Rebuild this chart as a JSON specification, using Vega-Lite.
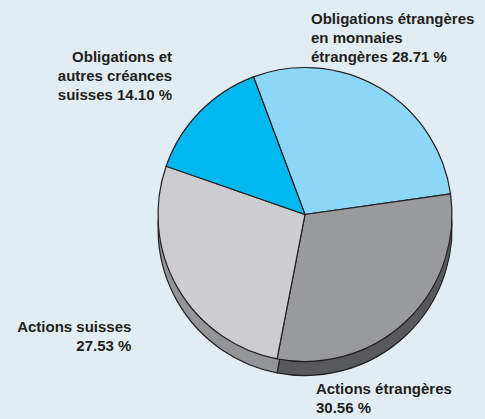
{
  "$schema": "https://vega.github.io/schema/vega-lite/v6.json",
  "width": 360,
  "height": 409,
  "autosize": "none",
  "padding": {"left": 125, "top": 10, "right": 0, "bottom": 0},
  "background": "#e2edf3",
  "config": {"view": {"stroke": null}},
  "data": {
    "values": [
      {"label": "Obligations étrangères\nen monnaies\nétrangères 28.71 %", "category": "Obligations étrangères en monnaies étrangères", "value": 28.71, "order": 1},
      {"label": "Actions étrangères\n30.56 %", "category": "Actions étrangères", "value": 30.56, "order": 2},
      {"label": "Actions suisses\n27.53 %", "category": "Actions suisses", "value": 27.53, "order": 3},
      {"label": "Obligations et\nautres créances\nsuisses 14.10 %", "category": "Obligations et autres créances suisses", "value": 14.10, "order": 4}
    ]
  },
  "encoding": {
    "theta": {"field": "value", "type": "quantitative", "stack": true, "scale": {"domain": [0, 100.9], "range": [-0.358, 5.925]}},
    "order": {"field": "order", "type": "quantitative"}
  },
  "layer": [
    {
      "mark": {"type": "arc", "radius": 147, "yOffset": 14, "stroke": "#231f20", "strokeWidth": 1.2},
      "encoding": {
        "color": {"field": "category", "type": "nominal", "legend": null,
          "scale": {"domain": ["Obligations étrangères en monnaies étrangères", "Actions étrangères", "Actions suisses", "Obligations et autres créances suisses"],
                    "range": ["#5a5b5d", "#58595b", "#939598", "#0096c8"]}}
      }
    },
    {
      "mark": {"type": "arc", "radius": 147, "stroke": "#231f20", "strokeWidth": 1.2},
      "encoding": {
        "color": {"field": "category", "type": "nominal", "legend": null,
          "scale": {"domain": ["Obligations étrangères en monnaies étrangères", "Actions étrangères", "Actions suisses", "Obligations et autres créances suisses"],
                    "range": ["#8dd7f6", "#999a9c", "#cdcdcf", "#00b8ee"]}}
      }
    },
    {
      "mark": {"type": "text", "radius": 190, "align": "left", "baseline": "top", "dx": -91, "dy": -39, "lineBreak": "\n", "font": "Liberation Sans", "fontWeight": "bold", "fontSize": 15, "lineHeight": 19, "color": "#231f20"},
      "encoding": {"text": {"condition": {"test": "datum.order == 1", "field": "label"}, "value": ""}}
    },
    {
      "mark": {"type": "text", "radius": 190, "align": "left", "baseline": "top", "dx": -120, "dy": 30, "lineBreak": "\n", "font": "Liberation Sans", "fontWeight": "bold", "fontSize": 15, "lineHeight": 19, "color": "#231f20"},
      "encoding": {"text": {"condition": {"test": "datum.order == 2", "field": "label"}, "value": ""}}
    },
    {
      "mark": {"type": "text", "radius": 190, "align": "right", "baseline": "top", "dx": -9, "dy": 11, "lineBreak": "\n", "font": "Liberation Sans", "fontWeight": "bold", "fontSize": 15, "lineHeight": 19, "color": "#231f20"},
      "encoding": {"text": {"condition": {"test": "datum.order == 3", "field": "label"}, "value": ""}}
    },
    {
      "mark": {"type": "text", "radius": 190, "align": "right", "baseline": "top", "dx": 3, "dy": -32, "lineBreak": "\n", "font": "Liberation Sans", "fontWeight": "bold", "fontSize": 15, "lineHeight": 19, "color": "#231f20"},
      "encoding": {"text": {"condition": {"test": "datum.order == 4", "field": "label"}, "value": ""}}
    }
  ],
  "resolve": {"scale": {"color": "independent"}}
}
